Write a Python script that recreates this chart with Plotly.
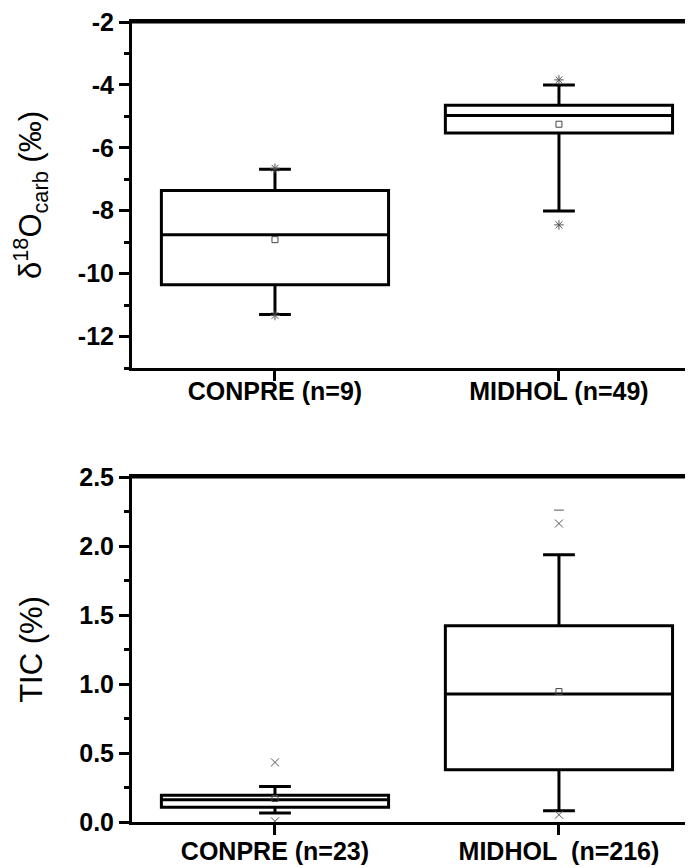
import plotly.graph_objects as go
from plotly.subplots import make_subplots

# ---- data: top panel (delta18O carb) ----
top_cats = ["CONPRE (n=9)", "MIDHOL (n=49)"]
top_q1 = [-10.35, -5.53]
top_median = [-8.76, -4.97]
top_q3 = [-7.36, -4.65]
top_low_whisker = [-11.30, -8.01]
top_high_whisker = [-6.68, -4.00]
top_mean = [-8.92, -5.25]
top_min = [-11.33, -8.45]
top_max = [-6.65, -3.84]
top_tickvals = [-2, -4, -6, -8, -10, -12]
top_ticktext = ["-2", "-4", "-6", "-8", "-10", "-12"]

# ---- data: bottom panel (TIC) ----
bot_cats = ["CONPRE (n=23)", "MIDHOL\u00a0\u00a0(n=216)"]
bot_q1 = [0.106, 0.379]
bot_median = [0.162, 0.928]
bot_q3 = [0.193, 1.423]
bot_low_whisker = [0.065, 0.082]
bot_high_whisker = [0.258, 1.936]
bot_mean = [0.17, 0.945]
bot_min = [0.005, 0.053]
bot_max = [0.432, 2.163]
bot_extreme_max = [None, 2.26]
bot_tickvals = [0.0, 0.5, 1.0, 1.5, 2.0, 2.5]
bot_ticktext = ["0.0", "0.5", "1.0", "1.5", "2.0", "2.5"]

OFF = 8
W, H = 693 - OFF, 868 - OFF
fig = make_subplots(rows=2, cols=1)

def add_panel(row, cats, q1, med, q3, lo, hi, mean, mn, mx, ext=None, mm_symbol="asterisk-open"):
    for i, c in enumerate(cats):
        fig.add_trace(go.Box(
            x=[c], q1=[q1[i]], median=[med[i]], q3=[q3[i]],
            lowerfence=[lo[i]], upperfence=[hi[i]],
            boxpoints=False, width=0.8, whiskerwidth=0.14,
            line=dict(color="black", width=3), fillcolor="white",
            showlegend=False, hoverinfo="skip"), row=row, col=1)
    fig.add_trace(go.Scatter(
        x=cats, y=mean, mode="markers",
        marker=dict(symbol="square-open", size=6, color="#444", line=dict(width=1)),
        showlegend=False, hoverinfo="skip"), row=row, col=1)
    fig.add_trace(go.Scatter(
        x=cats + cats, y=mn + mx, mode="markers",
        marker=dict(symbol=mm_symbol, size=8, color="#555", line=dict(width=1, color="#555")),
        showlegend=False, hoverinfo="skip"), row=row, col=1)
    if ext is not None:
        xs = [c for c, v in zip(cats, ext) if v is not None]
        ys = [v for v in ext if v is not None]
        fig.add_trace(go.Scatter(
            x=xs, y=ys, mode="markers",
            marker=dict(symbol="line-ew-open", size=7, color="#555", line=dict(width=1, color="#555")),
            showlegend=False, hoverinfo="skip"), row=row, col=1)

add_panel(1, top_cats, top_q1, top_median, top_q3, top_low_whisker, top_high_whisker,
          top_mean, top_min, top_max, mm_symbol="asterisk-open")
add_panel(2, bot_cats, bot_q1, bot_median, bot_q3, bot_low_whisker, bot_high_whisker,
          bot_mean, bot_min, bot_max, ext=bot_extreme_max, mm_symbol="x-thin-open")

FAM = "Liberation Sans, Arial, sans-serif"
tick_font = dict(family=FAM, size=25, color="black", weight="bold")
title_font = dict(family=FAM, size=31, color="black")

def ydom(top_px, bot_px):
    return [(H - (bot_px - OFF)) / H, (H - (top_px - OFF)) / H]

xcommon = dict(type="category", range=[-0.5035, 1.472], showline=True, linecolor="black",
               linewidth=3, mirror=True, ticks="outside", ticklen=10, tickwidth=3,
               tickcolor="black", tickfont=tick_font, showgrid=False, zeroline=False,
               automargin=False, domain=[0, 1], ticklabeloverflow="allow")
fig.update_xaxes(**xcommon, ticklabelstandoff=-11, row=1, col=1)
fig.update_xaxes(**xcommon, ticklabelstandoff=-5, row=2, col=1)

ycommon = dict(showline=True, linecolor="black", linewidth=3, mirror=False,
               ticks="outside", ticklen=10, tickwidth=3, tickcolor="black",
               tickfont=tick_font, showgrid=False, zeroline=False, automargin=False,
               ticklabeloverflow="allow")
fig.update_yaxes(**ycommon, row=1, col=1, domain=ydom(22, 368), range=[-13, -2],
                 tickmode="array", tickvals=top_tickvals, ticktext=top_ticktext,
                 minor=dict(dtick=1, tick0=-2, ticks="outside", ticklen=5, tickwidth=3, tickcolor="black"),
                 title=dict(text="δ<sup>18</sup>O<sub>carb</sub> (‰)", font=title_font, standoff=28))
fig.update_yaxes(**ycommon, row=2, col=1, domain=ydom(477, 822), range=[0, 2.5],
                 tickmode="array", tickvals=bot_tickvals, ticktext=bot_ticktext,
                 minor=dict(dtick=0.25, tick0=0, ticks="outside", ticklen=5, tickwidth=3, tickcolor="black"),
                 title=dict(text="TIC (%)", font=title_font, standoff=28))

# upper frame line of each panel (drawn in axis-domain coordinates)
for xr, yr in (("x domain", "y domain"), ("x2 domain", "y2 domain")):
    fig.add_shape(type="line", xref=xr, yref=yr, x0=0, x1=1, y0=1, y1=1,
                  line=dict(color="black", width=3), layer="above")

fig.update_layout(width=W, height=H, margin=dict(l=132 - OFF, r=0, t=0, b=0),
                  plot_bgcolor="white", paper_bgcolor="white", showlegend=False,
                  font=dict(family=FAM, color="black"))

fig.write_html("out.html")
